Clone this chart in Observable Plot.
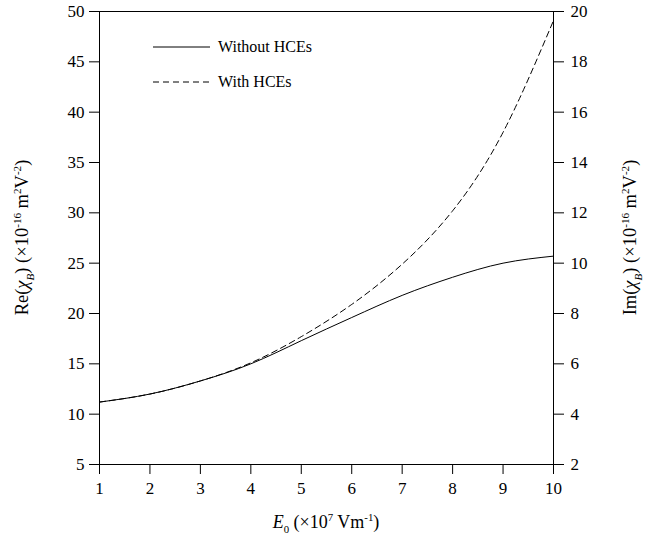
<!DOCTYPE html>
<html>
<head>
<meta charset="utf-8">
<script src="https://cdn.jsdelivr.net/npm/d3@7"></script>
<script src="https://cdn.jsdelivr.net/npm/@observablehq/plot@0.6"></script>
<style>
  html, body { margin: 0; padding: 0; background: #fff; }
  #chart { width: 646px; height: 544px; }
</style>
</head>
<body>
<div id="chart"></div>
<script>
// Field strength E0 (×10^7 V/m)
const E0 = [1, 2, 3, 4, 5, 6, 7, 8, 9, 10];
// Re(chi_B) (×10^-16 m^2 V^-2)
const withoutHCEs = [11.2, 12.0, 13.3, 15.0, 17.3, 19.6, 21.8, 23.6, 25.0, 25.7];
const withHCEs    = [11.2, 12.0, 13.3, 15.1, 17.7, 20.9, 24.9, 30.2, 38.0, 49.1];
// axis ticks
const xTicks  = [1, 2, 3, 4, 5, 6, 7, 8, 9, 10];
const reTicks = [5, 10, 15, 20, 25, 30, 35, 40, 45, 50];
const imTicks = [2, 4, 6, 8, 10, 12, 14, 16, 18, 20];
const reToIm = 2.5; // Re scale / Im scale ratio (5..50 vs 2..20)

const seriesNames = ["Without HCEs", "With HCEs"];

const rows = [];
E0.forEach((e, i) => {
  rows.push({E: e, v: withoutHCEs[i], s: seriesNames[0]});
});
E0.forEach((e, i) => {
  rows.push({E: e, v: withHCEs[i], s: seriesNames[1]});
});

const font = "'Liberation Serif', 'Times New Roman', serif";

const chart = Plot.plot({
  width: 646,
  height: 544,
  marginLeft: 99,
  marginRight: 93,
  marginTop: 11,
  marginBottom: 80,
  style: {fontFamily: font, fontSize: "17px", color: "#000", background: "#fff"},
  x: {domain: [1, 10]},
  y: {domain: [5, 50]},
  marks: [
    Plot.frame({stroke: "#000", strokeWidth: 1}),
    Plot.axisX({ticks: xTicks, tickSize: 10, tickPadding: 7, label: null, fontSize: 17, tickFormat: d => String(d)}),
    Plot.axisY({anchor: "left", ticks: reTicks, tickSize: 10, tickPadding: 5, label: null, fontSize: 17, tickFormat: d => String(d)}),
    Plot.axisY({anchor: "right", ticks: imTicks.map(v => v * reToIm), tickSize: 10, tickPadding: 7, label: null, fontSize: 17,
                tickFormat: d => String(Math.round(d / reToIm))}),
    Plot.line(rows.filter(d => d.s === seriesNames[0]), {x: "E", y: "v", curve: "natural", stroke: "#000", strokeWidth: 1}),
    Plot.line(rows.filter(d => d.s === seriesNames[1]), {x: "E", y: "v", curve: "natural", stroke: "#000", strokeWidth: 1, strokeDasharray: "6,4"})
  ]
});

document.getElementById("chart").appendChild(chart);

const svg = d3.select(chart);

// rich text helper
function rich(g, parts, size) {
  const text = g.append("text")
    .attr("font-family", font)
    .attr("font-size", size)
    .attr("fill", "#000")
    .attr("text-anchor", "middle");
  let off = 0;
  parts.forEach(p => {
    const target = p.sub ? size * 0.3 : p.sup ? -size * 0.4 : 0;
    const ts = text.append("tspan").text(p.t).attr("dy", target - off);
    off = target;
    if (p.sub || p.sup) ts.attr("font-size", size * 0.6);
    if (p.it) ts.attr("font-style", "italic");
  });
  return text;
}

// x axis label
rich(svg.append("g").attr("transform", "translate(326,528)"), [
  {t: "E", it: true}, {t: "0", sub: true}, {t: " (×10"}, {t: "7", sup: true},
  {t: " Vm"}, {t: "-1", sup: true}, {t: ")"}
], 18);

// left y label
rich(svg.append("g").attr("transform", "translate(28,237.5) rotate(-90)"), [
  {t: "Re("}, {t: "χ", it: true}, {t: "B", it: true, sub: true}, {t: ") (×10"},
  {t: "-16", sup: true}, {t: " m"}, {t: "2", sup: true}, {t: "V"}, {t: "-2", sup: true}, {t: ")"}
], 18.5);

// right y label
rich(svg.append("g").attr("transform", "translate(636,237.5) rotate(-90)"), [
  {t: "Im("}, {t: "χ", it: true}, {t: "B", it: true, sub: true}, {t: ") (×10"},
  {t: "-16", sup: true}, {t: " m"}, {t: "2", sup: true}, {t: "V"}, {t: "-2", sup: true}, {t: ")"}
], 18.5);

// legend
const leg = svg.append("g");
const legItems = [
  {name: seriesNames[0], dash: null, y: 47},
  {name: seriesNames[1], dash: "6,4", y: 82}
];
legItems.forEach(it => {
  leg.append("line").attr("x1", 153).attr("x2", 210).attr("y1", it.y).attr("y2", it.y)
    .attr("stroke", "#000").attr("stroke-width", 1).attr("stroke-dasharray", it.dash);
  leg.append("text").attr("x", 218).attr("y", it.y + 5)
    .attr("text-anchor", "start")
    .attr("font-family", font).attr("font-size", 16).attr("fill", "#000").text(it.name);
});
</script>
</body>
</html>
